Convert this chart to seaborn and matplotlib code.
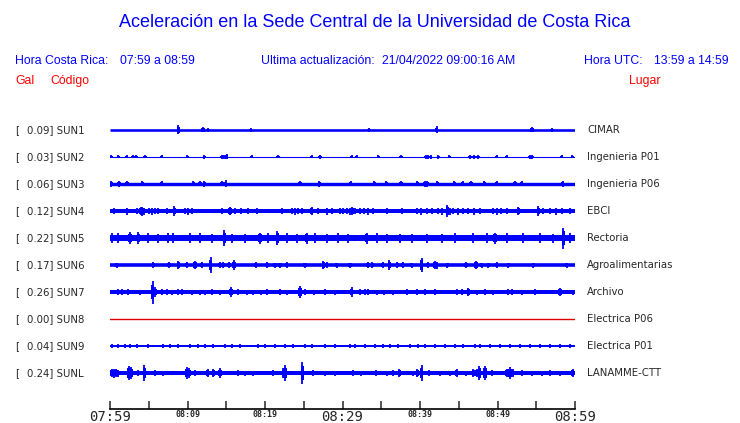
import matplotlib
matplotlib.use("Agg")
import matplotlib.pyplot as plt
import seaborn as sns

sns.set_style("white")
plt.rcParams['font.family'] = ['DejaVu Sans']

# station info
codes = ["SUN1", "SUN2", "SUN3", "SUN4", "SUN5", "SUN6", "SUN7", "SUN8", "SUN9", "SUNL"]
peaks = [0.09, 0.03, 0.06, 0.12, 0.22, 0.17, 0.26, 0.00, 0.04, 0.24]
places = ["CIMAR", "Ingenieria P01", "Ingenieria P06", "EBCI", "Rectoria",
          "Agroalimentarias", "Archivo", "Electrica P06", "Electrica P01", "LANAMME-CTT"]

# background noise level (half width of the band, trace units)
noise = [1.3, 0.5, 1.7, 2.0, 3.0, 1.8, 2.0, 0.0, 1.0, 2.0]

# bursts: minutes after 07:59 and half amplitude (trace units)
sun1_t = [8.81, 12.0, 12.65, 18.15, 33.42, 42.15, 54.45, 57.03]
sun1_a = [4.5, 2.5, 2.0, 2.0, 2.0, 3.5, 2.5, 2.0]

sun2_t = [0.13, 1.07, 2.15, 2.97, 3.35, 4.52, 6.67, 9.97, 12.17, 14.41, 14.71, 15.06,
          18.28, 21.68, 26.03, 27.1, 31.19, 31.83, 34.62, 37.55, 40.77, 41.03, 41.38,
          42.36, 43.78, 46.45, 46.97, 47.48, 49.9, 51.19, 54.19, 54.49, 58.28, 59.65]
sun2_a = [1.5, 1.5, 1.5, 1.5, 1.5, 1.5, 1.5, 1.5, 2.0, 1.8, 1.8, 2.5,
          1.5, 1.5, 1.5, 1.8, 1.5, 1.5, 1.5, 1.5, 1.8, 1.8, 1.8,
          2.0, 1.5, 1.8, 1.8, 1.8, 1.5, 1.5, 1.8, 1.8, 1.5, 1.5]

sun3_t = [0.13, 1.16, 2.19, 4.17, 6.67, 10.75, 11.61, 12.17, 14.48, 14.93, 24.52, 27.01,
          31.06, 34.1, 35.65, 37.55, 39.66, 40.65, 40.94, 42.23, 44.43, 45.51, 46.58,
          48.3, 49.9, 52.26, 53.12, 58.41]
sun3_a = [3.0, 3.0, 2.5, 2.5, 2.5, 2.5, 2.5, 3.0, 2.5, 3.5, 2.5, 3.0,
          2.5, 2.5, 2.5, 2.5, 2.5, 3.0, 3.0, 2.5, 2.5, 2.5, 2.5,
          2.5, 2.5, 2.5, 2.5, 3.0]

sun4_t = [0.55, 2.15, 3.52, 4.0, 4.19, 4.43, 5.03, 5.42, 5.81, 6.19, 7.32, 8.3, 9.68,
          10.06, 10.58, 14.49, 15.48, 16.13, 16.9, 17.85, 19.01, 22.23, 23.45, 23.87,
          24.26, 24.74, 26.03, 26.88, 27.96, 28.61, 29.68, 30.06, 30.54, 30.97, 31.29,
          31.61, 32.26, 32.77, 33.29, 33.94, 35.7, 37.64, 39.57, 40.13, 40.86, 41.51,
          42.32, 42.84, 43.52, 43.87, 44.26, 44.9, 45.55, 46.19, 46.97, 47.74, 49.42,
          49.94, 50.45, 51.23, 52.68, 55.26, 55.87, 56.77, 57.55, 58.32, 59.35]
sun4_a = [3.0, 3.5, 3.0, 4.0, 4.5, 3.5, 3.0, 3.5, 3.0, 3.0, 3.0, 5.0, 3.0,
          3.5, 3.0, 3.0, 4.0, 3.0, 3.0, 3.0, 3.0, 3.0, 3.0, 3.5,
          3.0, 3.0, 4.0, 3.0, 3.5, 3.0, 3.0, 3.0, 3.0, 3.5, 4.0,
          3.0, 3.0, 3.0, 3.5, 3.0, 3.0, 3.0, 3.0, 3.5, 3.0, 3.0,
          3.0, 3.5, 6.0, 3.5, 3.0, 3.5, 3.0, 3.0, 3.5, 3.0, 3.0,
          3.5, 3.0, 3.0, 4.0, 5.0, 3.0, 3.0, 3.5, 3.0, 3.0]

sun5_t = [0.22, 1.07, 2.58, 3.65, 4.94, 6.23, 7.52, 8.17, 10.32, 11.61, 13.12, 14.75,
          15.7, 17.42, 19.35, 20.43, 21.59, 22.8, 24.09, 25.38, 26.45, 27.96, 29.46,
          30.75, 33.12, 34.41, 35.7, 37.42, 38.93, 40.86, 42.8, 44.52, 46.88, 48.61,
          49.68, 51.19, 53.33, 55.48, 57.2, 58.49, 59.35]
sun5_a = [5.0, 5.0, 6.0, 6.0, 5.0, 4.5, 5.0, 5.0, 5.0, 5.0, 4.5, 8.0,
          4.5, 4.5, 5.5, 5.0, 7.0, 5.0, 4.5, 5.5, 5.0, 4.5, 5.0,
          4.5, 5.5, 5.0, 4.5, 4.5, 4.5, 4.5, 4.5, 5.0, 5.0, 5.0,
          5.5, 5.0, 5.0, 5.0, 4.5, 10.5, 5.0]

sun6_t = [0.86, 5.59, 7.61, 8.81, 9.9, 10.97, 11.83, 12.99, 14.19, 14.62, 15.35, 16.0,
          18.8, 20.3, 21.29, 21.94, 22.8, 25.16, 27.52, 27.96, 29.25, 30.97, 33.29,
          33.85, 35.19, 36.04, 37.07, 37.77, 38.93, 40.22, 40.99, 41.94, 42.15, 43.52,
          45.94, 47.23, 47.96, 48.81, 49.9, 51.39, 54.62, 58.93]
sun6_a = [2.5, 3.0, 3.0, 4.0, 3.0, 4.0, 3.0, 8.0, 3.0, 3.0, 3.0, 5.0,
          3.0, 3.0, 2.5, 2.5, 3.0, 2.5, 4.0, 3.0, 2.5, 2.5, 3.0,
          3.0, 3.0, 5.0, 3.0, 3.0, 2.5, 7.0, 3.0, 4.0, 3.5, 2.5,
          3.0, 4.0, 2.5, 2.5, 3.0, 2.5, 2.5, 2.5]

sun7_t = [1.07, 1.51, 2.36, 3.87, 5.51, 5.81, 6.67, 7.32, 7.96, 8.74, 9.33, 10.62,
          11.61, 12.26, 13.12, 14.19, 15.61, 16.55, 17.64, 18.41, 19.45, 20.22, 21.94,
          22.8, 24.52, 25.16, 26.36, 27.74, 29.03, 31.19, 32.26, 32.9, 33.33, 34.41,
          35.39, 36.55, 38.28, 39.57, 40.65, 41.94, 44.74, 45.38, 46.23, 47.32, 48.39,
          49.46, 51.39, 51.83, 53.12, 54.84, 58.06, 59.78]
sun7_a = [3.0, 3.0, 3.0, 2.5, 11.5, 5.0, 3.0, 3.0, 2.5, 3.0, 3.0, 2.5,
          2.5, 2.5, 3.0, 2.5, 5.0, 3.0, 2.5, 2.5, 2.5, 3.0, 3.0,
          2.5, 6.0, 3.0, 2.5, 3.0, 2.5, 5.0, 3.0, 3.0, 3.0, 2.5,
          2.5, 2.5, 3.0, 3.0, 3.0, 3.0, 3.0, 3.0, 4.0, 2.5, 3.0,
          2.5, 3.0, 3.0, 2.5, 3.0, 4.0, 2.5]

sun8_t = []
sun8_a = []

sun9_t = [0.26, 1.03, 1.94, 2.58, 3.48, 4.9, 6.84, 7.74, 8.77, 10.32, 11.35, 12.26,
          13.29, 14.84, 15.74, 16.77, 19.1, 20.0, 21.29, 22.58, 23.61, 25.16, 26.06,
          27.74, 29.03, 30.97, 31.61, 32.9, 34.19, 35.23, 36.13, 37.16, 38.71, 39.74,
          40.65, 41.94, 43.23, 44.52, 45.55, 47.1, 47.74, 49.03, 50.32, 51.61, 52.9,
          54.19, 55.48, 56.77, 58.06, 59.35]
sun9_a = [2.0, 1.8, 1.8, 2.0, 1.8, 1.8, 1.8, 1.8, 2.0, 1.8, 1.8, 1.8,
          1.8, 2.0, 1.8, 1.8, 1.8, 1.8, 1.8, 2.0, 1.8, 1.8, 1.8,
          1.8, 1.8, 1.8, 1.8, 1.8, 1.8, 1.8, 1.8, 1.8, 2.0, 1.8,
          1.8, 1.8, 1.8, 1.8, 1.8, 1.8, 1.8, 2.0, 1.8, 1.8, 1.8,
          1.8, 1.8, 1.8, 2.0, 1.8]

sunl_t = [0.22, 0.52, 0.77, 1.07, 2.45, 2.71, 3.65, 4.43, 5.81, 6.88, 9.9, 10.23, 10.97,
          12.61, 13.33, 14.19, 16.55, 17.42, 18.49, 21.07, 22.36, 22.58, 24.81, 26.23,
          27.74, 29.03, 31.32, 32.35, 34.32, 35.7, 36.55, 37.33, 39.14, 39.65, 40.22,
          41.2, 42.58, 43.87, 44.74, 45.94, 46.88, 47.32, 47.65, 48.39, 49.25, 51.19,
          51.61, 51.96, 53.12, 54.41, 55.74, 56.77, 58.06, 59.7]
sunl_a = [4.0, 4.5, 4.0, 3.5, 7.0, 6.0, 3.0, 8.0, 3.0, 2.5, 6.0, 5.0, 3.0,
          4.0, 4.0, 5.0, 3.0, 2.5, 2.5, 3.0, 5.0, 8.0, 11.3, 3.0,
          2.5, 2.5, 3.0, 2.5, 3.0, 2.5, 3.0, 4.0, 2.5, 4.0, 8.0,
          3.0, 2.5, 2.5, 4.0, 2.5, 4.0, 4.0, 7.0, 7.0, 3.0, 4.0,
          6.0, 4.0, 3.0, 2.5, 2.5, 3.0, 2.5, 4.0]

burst_t = [sun1_t, sun2_t, sun3_t, sun4_t, sun5_t, sun6_t, sun7_t, sun8_t, sun9_t, sunl_t]
burst_a = [sun1_a, sun2_a, sun3_a, sun4_a, sun5_a, sun6_a, sun7_a, sun8_a, sun9_a, sunl_a]

tick_min = list(range(0, 61, 5))
tick_lab = {0: "07:59", 10: "08:09", 20: "08:19", 30: "08:29", 40: "08:39", 50: "08:49", 60: "08:59"}

W, H = 740, 423
fig = plt.figure(figsize=(W / 100, H / 100), dpi=100)
ax = fig.add_axes([110 / W, (H - 409) / H, 465 / W, (409 - 115) / H])
ax.set_xlim(0, 60)
ax.set_ylim(-409, -115)

BLUE = "#0000ff"
for i, code in enumerate(codes):
    c = -130 - 27 * i
    if noise[i] == 0:
        sns.lineplot(x=[0, 60], y=[c, c], color="#e00000", lw=1.0, ax=ax)
    else:
        sns.lineplot(x=[0, 60], y=[c, c], color=BLUE, lw=max(2 * noise[i] * 0.72, 0.8),
                     solid_capstyle="butt", ax=ax)
    if burst_t[i]:
        # burst envelope: a short wider block plus the peak itself
        blk_lo = [c - 0.65 * a for a in burst_a[i]]
        blk_h = [1.3 * a for a in burst_a[i]]
        ax.bar(burst_t[i], blk_h, bottom=blk_lo, width=0.45, color=BLUE, lw=0)
        lo = [c - a for a in burst_a[i]]
        hi = [c + a for a in burst_a[i]]
        ax.vlines(burst_t[i], lo, hi, color=BLUE, lw=1.3)

    yf = 1 - (130 + 27 * i) / H
    fig.text(15 / W, yf, "[", fontsize=7.3, va="center", ha="left")
    fig.text(27 / W, yf, f"{peaks[i]:.2f}] {code}", fontsize=7.3, va="center", ha="left")
    fig.text(587 / W, yf, places[i], fontsize=7.3, va="center", ha="left")

for s in ["top", "left", "right"]:
    ax.spines[s].set_visible(False)
ax.spines["bottom"].set_linewidth(1.2)
ax.spines["bottom"].set_color("black")
ax.set_yticks([])
ax.set_xticks(tick_min)
ax.set_xticklabels([tick_lab.get(m, "") for m in tick_min])
ax.tick_params(axis="x", direction="in", length=5.8, width=1.1, pad=1, bottom=True)
for lab in ax.get_xticklabels():
    lab.set_family("DejaVu Sans Mono")
    if lab.get_text() in ("07:59", "08:29", "08:59"):
        lab.set_fontsize(10)
    else:
        lab.set_fontsize(6)
        lab.set_fontweight("bold")

# header
hdr = dict(family="Liberation Sans", va="center", ha="left")
fig.text(375 / W, 1 - 22.7 / H, "Aceleración en la Sede Central de la Universidad de Costa Rica",
         fontsize=13.0, color=BLUE, family="Liberation Sans", va="center", ha="center")
fig.text(15 / W, 1 - 61 / H, "Hora Costa Rica:", fontsize=8.8, color=BLUE, **hdr)
fig.text(120 / W, 1 - 61 / H, "07:59 a 08:59", fontsize=8.8, color=BLUE, **hdr)
fig.text(260.7 / W, 1 - 61 / H, "Ultima actualización:", fontsize=8.8, color=BLUE, **hdr)
fig.text(382 / W, 1 - 61 / H, "21/04/2022 09:00:16 AM", fontsize=8.8, color=BLUE, **hdr)
fig.text(583.5 / W, 1 - 61 / H, "Hora UTC:", fontsize=8.8, color=BLUE, **hdr)
fig.text(653.7 / W, 1 - 61 / H, "13:59 a 14:59", fontsize=8.8, color=BLUE, **hdr)
fig.text(15 / W, 1 - 80.7 / H, "Gal", fontsize=8.8, color="red", **hdr)
fig.text(50.7 / W, 1 - 80.7 / H, "Código", fontsize=8.8, color="red", **hdr)
fig.text(629 / W, 1 - 80.7 / H, "Lugar", fontsize=8.8, color="red", **hdr)

fig.savefig("out.png", dpi=100)
